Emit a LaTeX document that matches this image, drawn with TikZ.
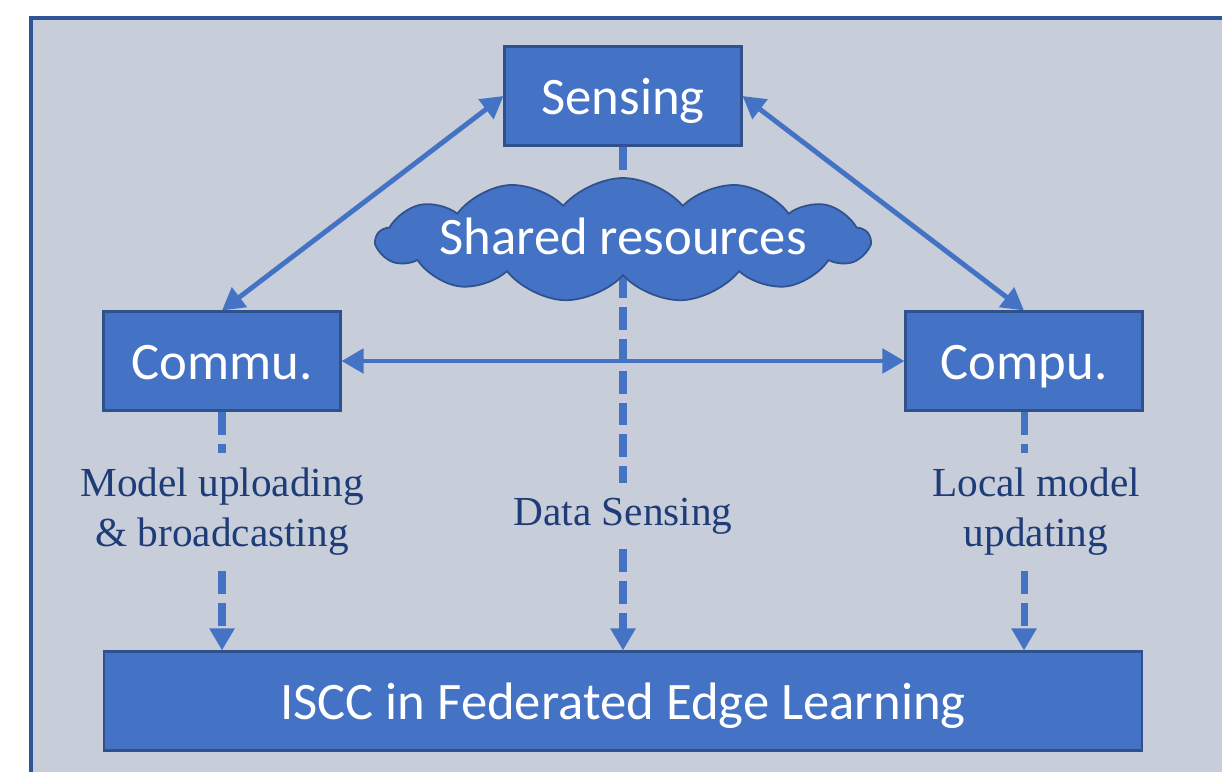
\documentclass[tikz,border=0pt]{standalone}
\usepackage{fontspec}
\newfontfamily\boxfont{Carlito}
\newfontfamily\labelfont{Liberation Serif}
\usetikzlibrary{arrows.meta,shapes.symbols}

\definecolor{panelgray}{HTML}{C8CED9}
\definecolor{paneledge}{HTML}{2F5597}
\definecolor{boxblue}{HTML}{4472C4}
\definecolor{boxedge}{HTML}{2F528F}
\definecolor{labelnavy}{HTML}{1E3C78}

\tikzset{
  block/.style={draw=boxedge, line width=1.2pt, fill=boxblue, text=white,
    font=\boxfont\fontsize{30}{36}\selectfont, text height=21.6pt, text depth=0pt,
    minimum width=4.74cm, minimum height=1.98cm, inner sep=0pt},
  tag/.style={text=labelnavy, font=\labelfont\fontsize{23.5}{28.5}\selectfont,
    align=center, inner xsep=2pt, inner ysep=0.3cm},
  link/.style={draw=boxblue, line width=2.8pt, {Triangle[length=0.44cm,width=0.48cm]}-{Triangle[length=0.44cm,width=0.48cm]}},
  flow/.style={draw=boxblue, line width=4pt, dash pattern=on 0.46cm off 0.18cm},
  flowin/.style={flow, -{Triangle[length=0.44cm,width=0.48cm]}}
}

\begin{document}
\begin{tikzpicture}[x=0.02cm, y=-0.02cm]
  \useasboundingbox (0,0) rectangle (1222,771);
  % panel
  \draw[fill=panelgray, draw=paneledge, line width=1.8pt] (31,18) rectangle (1245,800);

  % the three resources and the goal
  \node[block] (sensing) at (623,96) {Sensing};
  \node[block] (commu) at (222,361) {Commu.};
  \node[block] (compu) at (1024,361) {Compu.};
  \node[block, minimum width=20.76cm] (iscc) at (623,701) {ISCC in Federated Edge Learning};

  % what each one does
  \node[tag] (uptag) at (222,512) {Model uploading\\\& broadcasting};
  \node[tag] (datatag) at (623,516) {Data Sensing};
  \node[tag] (updtag) at (1036,512) {Local model\\updating};

  % couplings
  \draw[link] (sensing.west) -- (commu.north);
  \draw[link] (sensing.east) -- (compu.north);
  \draw[link] (commu.east) -- (compu.west);

  \draw[flow] (commu.south) -- (commu.south |- uptag.north);
  \draw[flowin] (commu.south |- uptag.south) -- (commu.south |- iscc.north);
  \draw[flow] (sensing.south) -- (sensing.south |- datatag.north);
  \draw[flowin] (sensing.south |- datatag.south) -- (sensing.south |- iscc.north);
  \draw[flow] (compu.south) -- (compu.south |- updtag.north);
  \draw[flowin] (compu.south |- updtag.south) -- (compu.south |- iscc.north);

  % cloud sits on top of the sensing line
  \node[cloud, cloud puffs=13, cloud puff arc=100, aspect=4,
    draw=boxedge, line width=1pt, fill=boxblue, inner sep=0pt,
    minimum width=9.86cm, minimum height=2.48cm,
    label={[text=white, font=\boxfont\fontsize{30}{36}\selectfont, yshift=2pt]center:Shared resources}]
    (shared) at (623,240) {};
\end{tikzpicture}
\end{document}
